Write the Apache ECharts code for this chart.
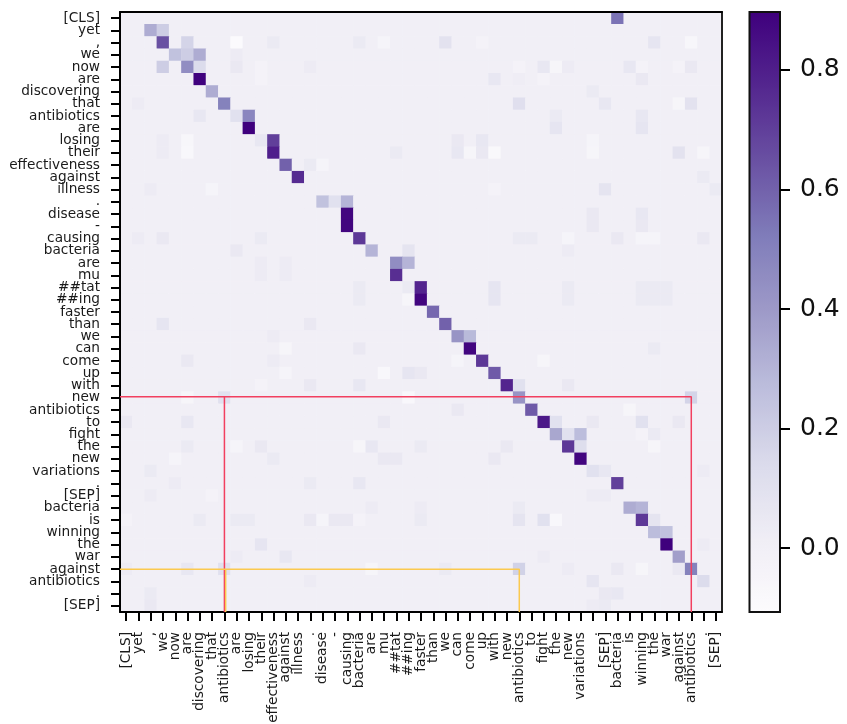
<!DOCTYPE html>
<html><head><meta charset="utf-8">
<style>html,body{margin:0;padding:0;background:#fff}#c{width:847px;height:724px}</style>
<script src="https://cdn.jsdelivr.net/npm/echarts@6/dist/echarts.min.js"></script>
</head><body><div id="c"></div>
<script>
const tokens = ["[CLS]","yet",",","we","now","are","discovering","that","antibiotics","are","losing","their","effectiveness","against","illness",".","disease","-","causing","bacteria","are","mu","##tat","##ing","faster","than","we","can","come","up","with","new","antibiotics","to","fight","the","new","variations",".","[SEP]","bacteria","is","winning","the","war","against","antibiotics",".","[SEP]"];
const backgroundValue = 0.0;
// [row, col, value]
const strongCells = [
[0,40,.55],[1,2,.33],[1,3,.2],[2,3,.65],[2,5,.17],[3,4,.25],[3,5,.2],[3,6,.33],[4,3,.2],[4,5,.45],[4,6,.13],[5,6,.89],[6,7,.33],[7,8,.5],[8,9,.1],[8,10,.48],[8,6,.06],[9,10,.9],[10,12,.7],[10,11,.06],[11,12,.8],[12,13,.6],[13,14,.76],
[15,16,.25],[15,17,.1],[15,18,.3],[16,18,.88],[17,18,.88],[18,19,.72],[19,20,.3],[20,22,.45],[20,23,.3],[21,22,.75],[22,24,.78],[23,24,.88],[24,25,.58],[25,26,.6],[26,27,.42],[26,28,.28],[27,28,.88],[28,29,.72],[29,30,.62],[30,31,.78],[31,32,.42],[30,32,.1],[32,33,.62],[33,34,.82],[33,35,.1],[34,35,.35],[34,36,.1],[34,37,.27],[35,36,.72],[35,37,.12],[36,37,.88],
[37,38,.1],[37,39,.06],[38,40,.7],[40,41,.33],[40,42,.3],[41,42,.72],[41,43,.08],[42,43,.27],[42,44,.25],[43,44,.92],[44,45,.38],[45,46,.5],[45,45,.05],[46,47,.13],[31,46,.17],[45,32,.18],[31,8,.1],[45,8,.1]
];
const faintCells = [
[2,9,-.1],[2,12,.04],[2,19,.04],[2,26,.09],[2,43,.07],[2,46,-.06],[2,21,-.04],[2,29,-.03],[3,9,.03],[4,9,.05],[4,11,-.03],[4,15,.03],[4,34,.06],[4,35,-.05],[4,32,-.03],[4,41,.06],[4,46,.05],[4,42,-.03],[4,45,-.03],[4,36,.03],
[5,30,.06],[5,42,.05],[5,32,.02],[5,34,-.03],[5,11,-.03],[6,38,.04],[7,32,.11],[7,39,.06],[7,46,.09],[7,45,-.05],[7,1,.03],[8,35,.04],[8,42,.06],[9,35,.07],[9,42,.07],[10,5,-.06],[11,5,-.07],[10,3,.03],[11,3,.03],[10,27,.05],[10,29,.06],[10,38,-.04],
[11,27,.06],[11,28,-.05],[11,30,-.08],[11,29,.05],[11,45,.09],[11,47,-.05],[11,38,-.05],[11,22,.04],[12,15,.04],[12,16,-.04],[13,47,.04],[14,39,.08],[14,30,-.03],[14,48,.04],[14,2,.03],[14,7,-.04],[16,38,.05],[16,42,.06],[17,38,.05],[17,42,.05],
[18,40,.05],[18,32,.04],[18,33,.04],[18,47,.05],[18,36,-.04],[18,42,-.04],[18,43,-.04],[18,1,.03],[18,3,.05],[18,11,.04],[19,9,.05],[19,36,.03],[19,23,.08],[20,11,.03],[20,13,.03],[21,11,.03],[21,13,.03],
[22,30,.07],[23,30,.07],[22,36,.04],[23,36,.04],[22,42,.04],[22,43,.04],[22,44,.04],[23,42,.04],[23,43,.04],[23,44,.04],[22,19,.04],[23,19,.04],[22,23,.04],[23,23,-.05],[25,3,.07],[25,15,.05],[26,12,.03],[27,19,.05],[27,13,-.05],[27,43,.04],
[28,5,.05],[28,12,.03],[28,27,-.04],[28,34,-.05],[29,13,-.04],[29,21,-.07],[29,23,.07],[29,24,.05],[30,19,.06],[30,15,.05],[30,11,-.03],[30,36,.05],[31,5,-.05],[31,23,-.07],[32,27,.05],[32,41,-.05],
[33,0,.05],[33,5,.06],[33,21,.05],[33,38,.05],[33,42,.1],[33,45,.05],[34,42,-.03],[34,43,.04],[35,5,.04],[35,11,.05],[35,9,-.04],[35,19,-.05],[35,20,.06],[35,24,.04],[35,31,.05],[35,43,-.05],[36,4,-.04],[36,12,.04],[36,21,.05],[36,22,.05],[36,30,.05],
[37,2,.04],[37,47,.03],[38,15,.04],[38,19,.06],[38,4,.03],[39,2,.03],[39,7,-.03],[39,38,.03],[39,39,.03],[40,20,.03],[40,24,.03],[40,32,.04],[41,0,-.03],[41,6,.04],[41,9,.04],[41,10,.04],[41,15,.05],[41,16,-.04],[41,17,.05],[41,18,.05],[41,19,-.03],[41,24,.04],[41,32,.08],[41,34,.1],[41,35,-.07],
[43,11,.07],[43,47,.03],[44,13,.06],[44,9,.03],[44,34,.03],[45,5,.06],[45,20,-.05],[45,26,.04],[45,40,.05],[45,42,-.05],[45,0,.03],[45,36,.03],[46,15,.03],[46,38,.07],[47,2,.04],[47,39,.05],[47,40,.06],[48,2,.05],[48,38,.03],[48,39,.04]
];
const colorbarTicks = [0, 0.2, 0.4, 0.6, 0.8];
const colorMin = -0.107, colorMax = 0.897;
const purples = ['#fcfbfd','#efedf5','#dadaeb','#bcbddc','#9e9ac8','#807dba','#6a51a3','#54278f','#3f007d'];
const redPaths = [[[-0.5,30.92],[46,30.92],[46,48.5]],[[8,30.92],[8,48.5]]];
const orangePaths = [[[-0.5,45],[32,45],[32,48.5]],[[8.1,45],[8.1,48.5]]];

const matrix = {};
[...faintCells, ...strongCells].forEach(([r,c,v]) => { matrix[r+'_'+c] = v; });
const heatData = [];
tokens.forEach((_, r) => tokens.forEach((_, c) => {
  const k = r+'_'+c;
  heatData.push([c, r, k in matrix ? matrix[k] : backgroundValue]);
}));
const labelFont = {fontFamily:'DejaVu Sans', fontSize:13.7, color:'#1a1a1a'};
const catTick = {show:true, alignWithLabel:true, length:9, lineStyle:{color:'#000',width:2}};
const lineSeries = (paths, color) => paths.map(p => ({
  type:'line', xAxisIndex:1, yAxisIndex:1, data:p, showSymbol:false, silent:true, animation:false, z:6, zlevel:1,
  lineStyle:{color, width:1.5}
}));
const chart = echarts.init(document.getElementById('c'), null, {renderer:'canvas'});
chart.setOption({
  backgroundColor:'transparent', animation:false,
  grid:[
    {left:120, top:12, width:602, height:600, outerBoundsMode:'none'},
    {left:749.5, top:12, width:30.5, height:600, show:true, borderColor:'#111', borderWidth:2, backgroundColor:'transparent', z:3, zlevel:1, outerBoundsMode:'none'}
  ],
  xAxis:[
    {type:'category', gridIndex:0, data:tokens, position:'bottom', z:5, zlevel:1,
     axisLine:{onZero:false,lineStyle:{color:'#000',width:2}}, axisTick:catTick,
     axisLabel:{...labelFont, interval:0, rotate:90, margin:20, hideOverlap:false}, splitLine:{show:false}},
    {type:'value', gridIndex:0, min:-0.5, max:48.5, position:'top', z:5, zlevel:1,
     axisLine:{show:true,onZero:false,lineStyle:{color:'#000',width:2}}, axisTick:{show:false}, axisLabel:{show:false}, splitLine:{show:false}},
    {type:'value', gridIndex:1, min:0, max:1, show:false}
  ],
  yAxis:[
    {type:'category', gridIndex:0, data:tokens, inverse:true, position:'left', z:5, zlevel:1,
     axisLine:{onZero:false,lineStyle:{color:'#000',width:2}}, axisTick:catTick,
     axisLabel:{...labelFont, interval:0, margin:20, hideOverlap:false, padding:[3,0,0,0]}, splitLine:{show:false}},
    {type:'value', gridIndex:0, min:-0.5, max:48.5, inverse:true, position:'right', z:5, zlevel:1,
     axisLine:{show:true,onZero:false,lineStyle:{color:'#222',width:2}}, axisTick:{show:false}, axisLabel:{show:false}, splitLine:{show:false}},
    {type:'value', gridIndex:1, min:colorMin, max:colorMax, position:'right', z:5, zlevel:1,
     axisLine:{show:false,onZero:false}, splitLine:{show:false},
     axisTick:{show:true,length:10,customValues:colorbarTicks,lineStyle:{color:'#000',width:2}},
     axisLabel:{show:true,customValues:colorbarTicks,margin:20,fontFamily:'DejaVu Sans',fontSize:25,color:'#111',formatter:v=>v.toFixed(1)}}
  ],
  visualMap:[{
    type:'continuous', seriesIndex:0, min:colorMin, max:colorMax, show:true, calculable:false, hoverLink:false,
    left:749, top:12, padding:0, itemWidth:31, itemHeight:600, text:null, z:1, zlevel:1,
    inRange:{color:purples}
  }],
  series:[
    {type:'heatmap', xAxisIndex:0, yAxisIndex:0, data:heatData, silent:true, progressive:0, animation:false, zlevel:0, itemStyle:{borderWidth:0}},
    ...lineSeries(redPaths,'#f23f5f'),
    ...lineSeries(orangePaths,'#fbc94f')
  ]
});
// the reference's cells are smoothed: soften only the layer that holds the heatmap
const layers = chart.getDom().querySelectorAll('canvas');
if (layers.length > 1) layers[0].style.filter = 'blur(0.7px)';
</script></body></html>
